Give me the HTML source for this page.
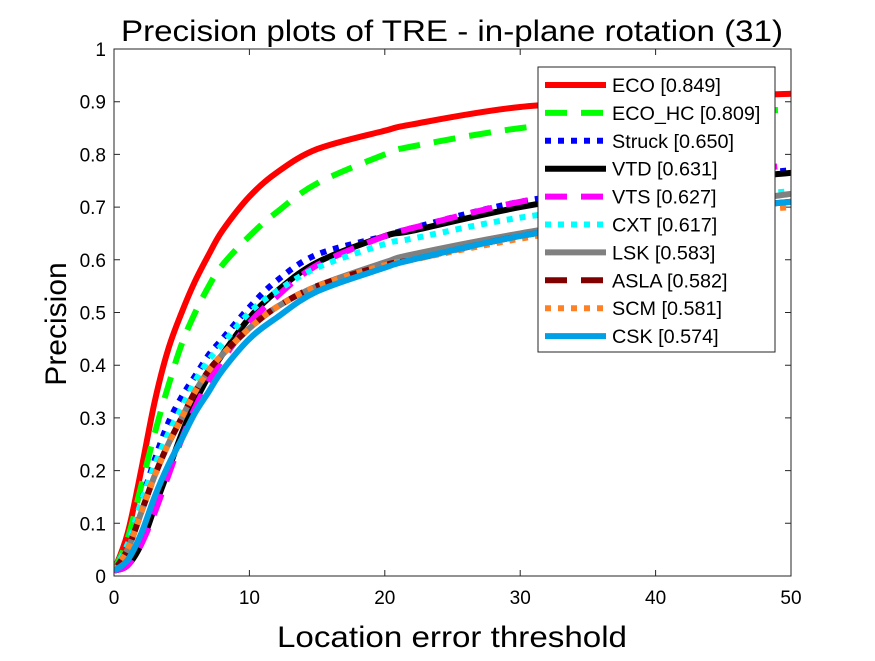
<!DOCTYPE html>
<html><head><meta charset="utf-8"><style>
body{margin:0;background:#fff;}
svg text{font-family:"Liberation Sans",Arial,sans-serif;}
</style></head><body>
<svg id="chart" width="875" height="656" viewBox="0 0 875 656" xmlns="http://www.w3.org/2000/svg">
<rect x="0" y="0" width="875" height="656" fill="#fff"/>
<text x="452" y="41" font-size="30" text-anchor="middle" textLength="662" lengthAdjust="spacingAndGlyphs">Precision plots of TRE - in-plane rotation (31)</text>
<text x="452" y="647" font-size="30" text-anchor="middle" textLength="350" lengthAdjust="spacingAndGlyphs">Location error threshold</text>
<text transform="translate(66,324) rotate(-90)" font-size="30" text-anchor="middle">Precision</text>
<g id="ticks"></g>
<clipPath id="clip"><rect x="114" y="49" width="677" height="527"/></clipPath>
<g id="series" clip-path="url(#clip)"></g>
<rect x="114" y="49" width="677" height="527" fill="none" stroke="#262626" stroke-width="1"/>
<g id="legend"></g>
</svg>
<script>
const xs = [0,1,2,3,4,5,6,7,8,10,12,15,20,22,30,40,50];
const names = ["ECO [0.849]","ECO_HC [0.809]","Struck [0.650]","VTD [0.631]","VTS [0.627]","CXT [0.617]","LSK [0.583]","ASLA [0.582]","SCM [0.581]","CSK [0.574]"];
const ecoVals   = [0.01,0.08,0.20,0.33,0.43,0.50,0.56,0.61,0.655,0.72,0.765,0.81,0.845,0.857,0.89,0.905,0.915];
const ecohcVals = [0.01,0.07,0.17,0.27,0.36,0.44,0.50,0.55,0.59,0.645,0.69,0.745,0.80,0.815,0.85,0.875,0.885];
const struckVals= [0.01,0.06,0.14,0.22,0.29,0.34,0.38,0.42,0.45,0.51,0.56,0.61,0.645,0.66,0.71,0.745,0.77];
const vtdVals   = [0.01,0.02,0.06,0.13,0.20,0.27,0.33,0.38,0.42,0.49,0.54,0.595,0.645,0.655,0.70,0.74,0.765];
const vtsVals   = [0.01,0.02,0.06,0.12,0.19,0.26,0.32,0.37,0.41,0.48,0.53,0.59,0.645,0.66,0.71,0.75,0.78];
const cxtVals   = [0.01,0.06,0.14,0.21,0.27,0.32,0.37,0.41,0.44,0.50,0.54,0.585,0.63,0.64,0.68,0.71,0.73];
const lskVals   = [0.01,0.05,0.12,0.19,0.25,0.30,0.35,0.39,0.42,0.47,0.51,0.55,0.595,0.61,0.65,0.69,0.725];
const aslaVals  = [0.01,0.05,0.12,0.19,0.25,0.30,0.35,0.39,0.42,0.47,0.51,0.55,0.59,0.60,0.645,0.685,0.71];
const scmVals   = [0.01,0.05,0.12,0.19,0.25,0.30,0.35,0.39,0.42,0.47,0.51,0.55,0.59,0.60,0.64,0.68,0.70];
const cskVals   = [0.01,0.03,0.08,0.15,0.21,0.26,0.31,0.35,0.39,0.45,0.49,0.54,0.585,0.60,0.645,0.685,0.71];
const xTicks = [0,10,20,30,40,50];
const yTicks = [0,0.1,0.2,0.3,0.4,0.5,0.6,0.7,0.8,0.9,1];
const yTickLabels = ["0","0.1","0.2","0.3","0.4","0.5","0.6","0.7","0.8","0.9","1"];

const X0=114,X1=791,Y0=576,Y1=49;
function sx(v){return X0+(v-0)/50*(X1-X0);}
function sy(v){return Y0-(v-0)/1*(Y0-Y1);}
const NS="http://www.w3.org/2000/svg";
const styles=[
 {c:"#ff0000",d:""},{c:"#00ff00",d:"22 14"},{c:"#0000ff",d:"6 7"},{c:"#000000",d:""},
 {c:"#ff00ff",d:"22 14"},{c:"#00ffff",d:"6 7"},{c:"#808080",d:""},{c:"#800000",d:"22 14"},
 {c:"#ff8025",d:"6 7"},{c:"#00a0e6",d:""}];
const allVals=[ecoVals,ecohcVals,struckVals,vtdVals,vtsVals,cxtVals,lskVals,aslaVals,scmVals,cskVals];
const keys=["eco","eco-hc","struck","vtd","vts","cxt","lsk","asla","scm","csk"];

function smoothPath(pts){
 let d="M"+pts[0][0].toFixed(1)+","+pts[0][1].toFixed(1);
 for(let i=0;i<pts.length-1;i++){
  const p0=pts[Math.max(0,i-1)],p1=pts[i],p2=pts[i+1],p3=pts[Math.min(pts.length-1,i+2)];
  const c1=[p1[0]+(p2[0]-p0[0])/6,p1[1]+(p2[1]-p0[1])/6];
  const c2=[p2[0]-(p3[0]-p1[0])/6,p2[1]-(p3[1]-p1[1])/6];
  d+=`C${c1[0].toFixed(1)},${c1[1].toFixed(1)} ${c2[0].toFixed(1)},${c2[1].toFixed(1)} ${p2[0].toFixed(1)},${p2[1].toFixed(1)}`;
 }
 return d;
}

const tg=document.getElementById("ticks");
xTicks.forEach(t=>{
 const l=document.createElementNS(NS,"path");
 l.setAttribute("d",`M${sx(t)},${Y0}v-6M${sx(t)},${Y1}v6`);
 l.setAttribute("stroke","#262626");
 
 
 tg.appendChild(l);
 const tx=document.createElementNS(NS,"text");
 tx.setAttribute("x",sx(t));tx.setAttribute("y",Y0+28);
 tx.setAttribute("font-size","19");tx.setAttribute("text-anchor","middle");
 tx.textContent=t;
 
 
 tg.appendChild(tx);
});
yTicks.forEach((t,i)=>{
 const l=document.createElementNS(NS,"path");
 l.setAttribute("d",`M${X0},${sy(t)}h6M${X1},${sy(t)}h-6`);
 l.setAttribute("stroke","#262626");
 
 
 tg.appendChild(l);
 const tx=document.createElementNS(NS,"text");
 tx.setAttribute("x",X0-8);tx.setAttribute("y",sy(t)+7);
 tx.setAttribute("font-size","19");tx.setAttribute("text-anchor","end");
 tx.textContent=yTickLabels[i];
 
 
 tg.appendChild(tx);
});

const sg=document.getElementById("series");
allVals.forEach((vals,k)=>{
 const p=document.createElementNS(NS,"path");
 const pts=xs.map((x,i)=>[sx(x),sy(vals[i])]);
 p.setAttribute("d",smoothPath(pts));p.setAttribute("fill","none");
 p.setAttribute("stroke",styles[k].c);p.setAttribute("stroke-width","6");
 p.setAttribute("stroke-linejoin","round");
 if(styles[k].d)p.setAttribute("stroke-dasharray",styles[k].d);
 
 
 sg.appendChild(p);
});

const lg=document.getElementById("legend");
const box=document.createElementNS(NS,"rect");
box.setAttribute("x",538);box.setAttribute("y",67);box.setAttribute("width",237);box.setAttribute("height",285);
box.setAttribute("fill","#fff");box.setAttribute("stroke","#262626");


lg.appendChild(box);
names.forEach((n,k)=>{
 const y=85+k*27.9;
 const l=document.createElementNS(NS,"path");
 l.setAttribute("d",`M545,${y}H606`);
 l.setAttribute("stroke",styles[k].c);l.setAttribute("stroke-width","6");
 if(styles[k].d)l.setAttribute("stroke-dasharray",styles[k].d);
 
 
 lg.appendChild(l);
 const t=document.createElementNS(NS,"text");
 t.setAttribute("x",612);t.setAttribute("y",y+7);t.setAttribute("font-size","19.8");
 t.textContent=n;
 
 
 lg.appendChild(t);
});
</script>
</body></html>
